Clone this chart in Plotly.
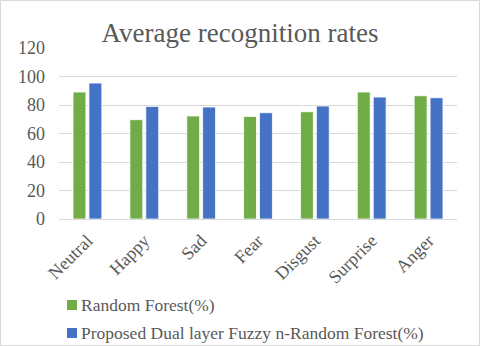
import plotly.graph_objects as go

categories = ["Neutral", "Happy", "Sad", "Fear", "Disgust", "Surprise", "Anger"]
random_forest = [89.1, 69.7, 72.3, 72.0, 75.3, 89.1, 86.5]
proposed = [95.4, 79.0, 78.6, 74.6, 79.3, 85.6, 85.1]
y_ticks = [0, 20, 40, 60, 80, 100, 120]
series_names = ["Random Forest(%)", "Proposed Dual layer Fuzzy n-Random Forest(%)"]
series_colors = ["#70AD47", "#4472C4"]

font_family = "Liberation Serif, Times New Roman, serif"
gray = "#595959"
W, H = 480, 346
L, R, T, B = 59, 23, 48, 127

fig = go.Figure()
for name, vals, col in zip(series_names, [random_forest, proposed], series_colors):
    fig.add_trace(go.Bar(
        x=categories, y=vals, name=name,
        marker=dict(color=col, line=dict(color="#ffffff", width=0.8)),
        showlegend=False,
    ))

fig.update_layout(
    width=W, height=H,
    margin=dict(l=L, r=R, t=T, b=B, autoexpand=False),
    paper_bgcolor="white", plot_bgcolor="white",
    barmode="group", bargap=0.44, bargroupgap=0.19,
    font=dict(family=font_family, color=gray, size=18),
    title=dict(text="Average recognition rates", x=0.5, xanchor="center",
               y=1 - 33 / H, yanchor="middle",
               font=dict(family=font_family, size=27, color=gray)),
    xaxis=dict(tickangle=-45, showgrid=False, showline=True, linecolor="#d9d9d9",
               linewidth=1, ticks="", tickfont=dict(size=18, color=gray),
               automargin=False, ticklabelstandoff=3),
    yaxis=dict(range=[0, 120], tickvals=y_ticks, showgrid=True, gridcolor="#d9d9d9",
               gridwidth=1, zeroline=False, showline=False, ticks="",
               tickfont=dict(size=18, color=gray), automargin=False,
               ticklabelstandoff=13),
    showlegend=False,
)

pw, ph = W - L - R, H - T - B
def px_x(x):
    return (x - L) / pw
def px_y(y):
    return (H - B - y) / ph

# custom legend (Excel style: small square + label)
legend_rows = [305, 333]
for name, col, yc in zip(series_names, series_colors, legend_rows):
    fig.add_shape(type="rect", xref="paper", yref="paper",
                  x0=px_x(67), x1=px_x(77), y0=px_y(yc + 5), y1=px_y(yc - 5),
                  fillcolor=col, line=dict(width=0))
    fig.add_annotation(text=name, xref="paper", yref="paper",
                       x=px_x(79), y=px_y(yc), xanchor="left", yanchor="middle",
                       showarrow=False, font=dict(size=17.5, color=gray))

# chart border
fig.add_shape(type="rect", xref="paper", yref="paper", x0=px_x(0.5), x1=px_x(W - 0.5),
              y0=px_y(H - 0.5), y1=px_y(0.5), line=dict(color="#d9d9d9", width=1))
fig.write_html("out.html", post_script="document.body.style.margin='0';",
               config={"displayModeBar": False})
